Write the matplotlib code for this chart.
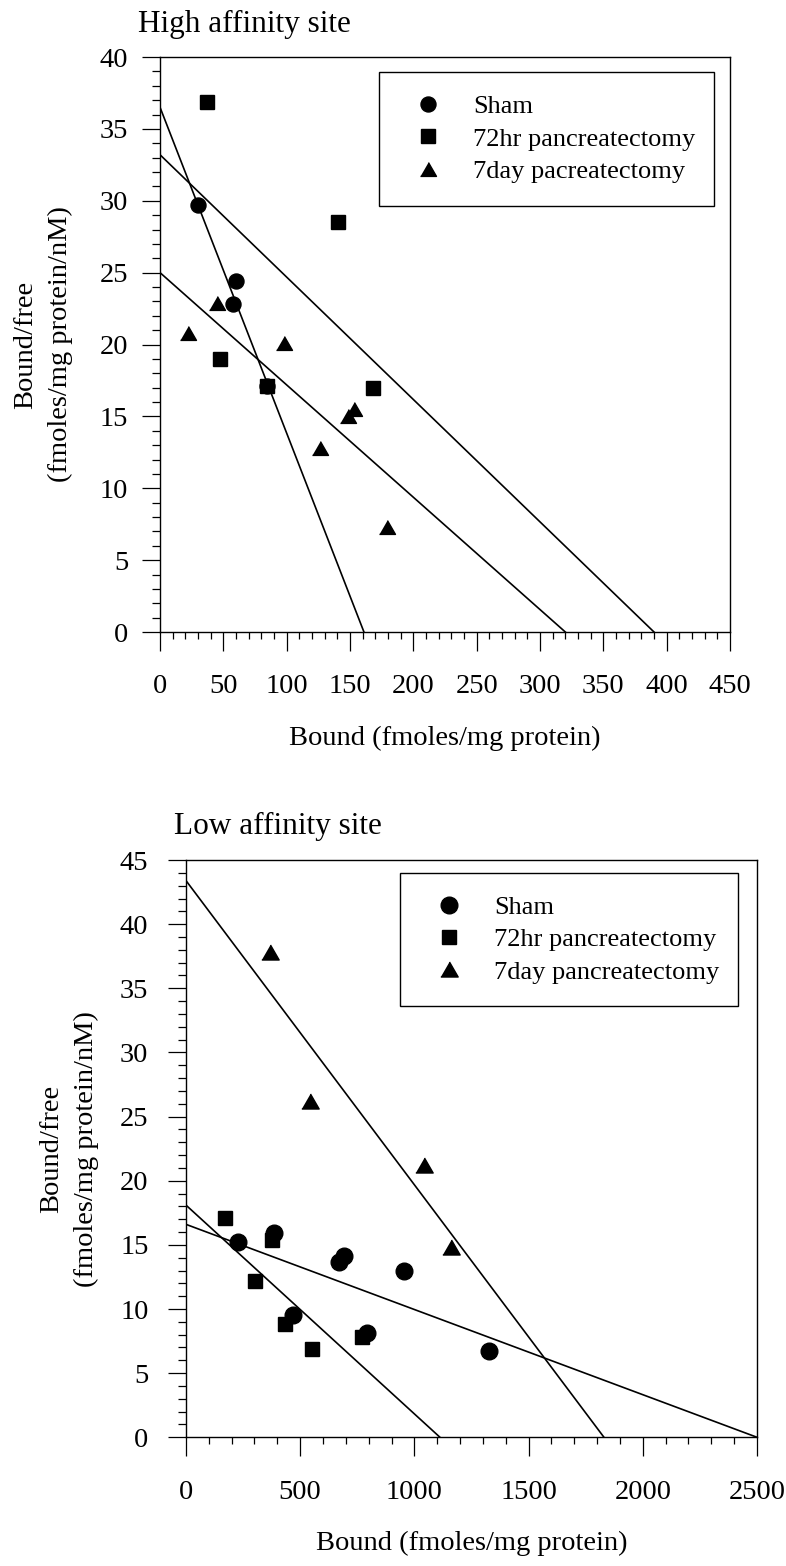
""" Scatchard plots for high and low affinity binding sites """

import matplotlib
matplotlib.use("Agg")
import matplotlib.pyplot as plt
import matplotlib.ticker as ticker

plt.rcParams['font.family'] = ['Liberation Serif', 'DejaVu Serif']

# high affinity site
hi_sham_x = [29.7, 57.4, 60.0, 84.2]
hi_sham_y = [29.7, 22.8, 24.4, 17.1]
hi_72hr_x = [36.8, 47.4, 84.2, 140.3, 167.9]
hi_72hr_y = [36.9, 19.0, 17.1, 28.5, 17.0]
hi_7day_x = [21.8, 45.3, 98.2, 126.3, 148.7, 153.2, 179.0]
hi_7day_y = [20.8, 22.9, 20.1, 12.8, 15.05, 15.5, 7.3]
# fitted lines: (y intercept, x intercept)
hi_fits = [(36.5, 161), (33.2, 390), (25.0, 320)]

# low affinity site
lo_sham_x = [227, 384, 469, 672, 693, 794, 955, 1325]
lo_sham_y = [15.2, 15.9, 9.5, 13.7, 14.1, 8.1, 13.0, 6.7]
lo_72hr_x = [171, 303, 378, 435, 552, 772]
lo_72hr_y = [17.1, 12.2, 15.4, 8.8, 6.9, 7.8]
lo_7day_x = [369, 542, 1040, 1160]
lo_7day_y = [37.8, 26.2, 21.2, 14.8]
lo_fits = [(16.6, 2500), (18.1, 1112), (43.4, 1830)]

TRI = [(-1, -0.866), (1, -0.866), (0, 0.866)]


def style_axes(ax, xmax, ymax, xmaj, xmin, ytick_pad):
    ax.set_xlim(0, xmax)
    ax.set_ylim(0, ymax)
    ax.xaxis.set_major_locator(ticker.MultipleLocator(xmaj))
    ax.xaxis.set_minor_locator(ticker.MultipleLocator(xmin))
    ax.yaxis.set_major_locator(ticker.MultipleLocator(5))
    ax.yaxis.set_minor_locator(ticker.MultipleLocator(1))
    ax.tick_params(axis='x', which='major', direction='out', length=13.5,
                   width=0.9, pad=17, labelsize=20.5)
    ax.tick_params(axis='x', which='minor', direction='out', length=5,
                   width=0.9)
    ax.tick_params(axis='y', which='major', direction='out', length=13,
                   width=0.9, pad=ytick_pad, labelsize=20.5)
    ax.tick_params(axis='y', which='minor', direction='out', length=5.8,
                   width=0.9)
    for s in ax.spines.values():
        s.set_linewidth(1.0)
    ax.set_xlabel("Bound (fmoles/mg protein)", fontsize=20.5, labelpad=19)


def draw_panel(ax, fits, sham, hr72, day7, ms, labels):
    for b, x0 in fits:
        ax.plot([0, x0], [b, 0], color='black', lw=1.2, zorder=2)
    ax.plot(sham[0], sham[1], 'o', color='black', ms=ms[0], ls='none',
            label=labels[0], zorder=3)
    ax.plot(hr72[0], hr72[1], 's', color='black', ms=ms[1], ls='none',
            label=labels[1], zorder=3)
    ax.plot(day7[0], day7[1], marker=TRI, color='black', ms=ms[2],
            ls='none', label=labels[2], zorder=3)


fig = plt.figure(figsize=(7.86, 15.66), dpi=100)
ax1 = fig.add_axes([0.2036, 0.5964, 0.7252, 0.3672])
ax2 = fig.add_axes([0.2366, 0.0822, 0.7265, 0.3686])

draw_panel(ax1, hi_fits, (hi_sham_x, hi_sham_y), (hi_72hr_x, hi_72hr_y),
           (hi_7day_x, hi_7day_y), (10.8, 9.4, 11.5),
           ["Sham", "72hr pancreatectomy", "7day pacreatectomy"])
style_axes(ax1, 450, 40, 50, 10, 10)
draw_panel(ax2, lo_fits, (lo_sham_x, lo_sham_y), (lo_72hr_x, lo_72hr_y),
           (lo_7day_x, lo_7day_y), (12, 10, 12.5),
           ["Sham", "72hr pancreatectomy", "7day pancreatectomy"])
style_axes(ax2, 2500, 45, 500, 100, 14)

ylab = "Bound/free\n(fmoles/mg protein/nM)"
ax1.set_ylabel(ylab, fontsize=20.5, linespacing=1.5)
ax1.yaxis.set_label_coords(-0.153, 0.5)
ax2.set_ylabel(ylab, fontsize=20.5, linespacing=1.5)
ax2.yaxis.set_label_coords(-0.152, 0.5)

ax1.text(-0.0386, 1.0435, "High affinity site", transform=ax1.transAxes,
         fontsize=22.5, ha='left', va='baseline')
ax2.text(-0.021, 1.045, "Low affinity site", transform=ax2.transAxes,
         fontsize=22.5, ha='left', va='baseline')

for ax, box in [(ax1, (0.384, 0.974, 0.588, 0.0)),
                (ax2, (0.375, 0.978, 0.592, 0.0))]:
    leg = ax.legend(loc='upper left', bbox_to_anchor=box, mode='expand',
                    fontsize=19, frameon=True, fancybox=False, framealpha=1,
                    edgecolor='black', borderaxespad=0, borderpad=0.87,
                    labelspacing=0.33, handlelength=1.97, handletextpad=0.72,
                    numpoints=1)
    leg.get_frame().set_linewidth(1.0)

fig.savefig("out.png", dpi=100)
